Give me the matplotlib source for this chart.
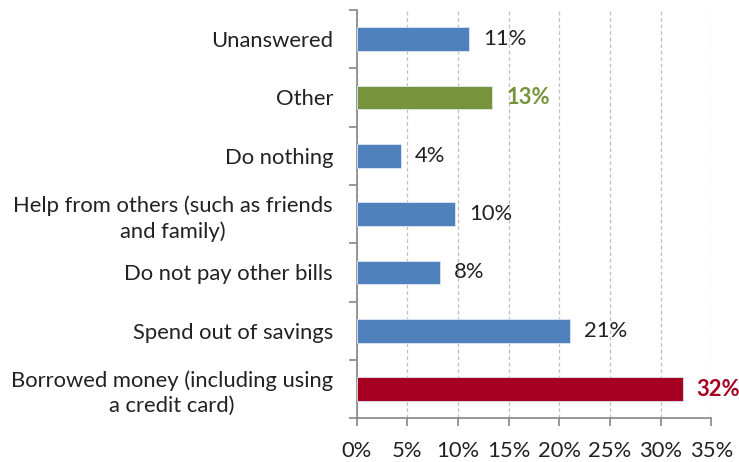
import matplotlib.pyplot as plt
import numpy as np

# Survey answers, listed bottom to top
categories = [
    "Borrowed money (including using\na credit card)",
    "Spend out of savings",
    "Do not pay other bills",
    "Help from others (such as friends\nand family)",
    "Do nothing",
    "Other",
    "Unanswered",
]
shares = [32.2, 21.1, 8.2, 9.7, 4.4, 13.4, 11.1]
bar_colors = ["#A50021", "#4F81BD", "#4F81BD", "#4F81BD", "#4F81BD", "#77933C", "#4F81BD"]
label_colors = ["#A50021", "#222222", "#222222", "#222222", "#222222", "#77933C", "#222222"]
label_bold = [True, False, False, False, False, True, False]
x_ticks = [0, 5, 10, 15, 20, 25, 30, 35]

plt.rcParams["font.family"] = ["Lato", "DejaVu Sans"]
fs = 15.8

fig = plt.figure(figsize=(7.39, 4.62), dpi=100)
ax = fig.add_axes([0.4827, 0.0946, 0.4798, 0.8838])

y = np.arange(len(categories))
ax.barh(y, shares, height=0.41, color=bar_colors, edgecolor="#DCE6F2",
        linewidth=0.6, zorder=3)

for yi, v, c, b in zip(y, shares, label_colors, label_bold):
    ax.annotate(f"{v:.0f}%", xy=(v, yi), xytext=(10, 0), textcoords="offset points",
                va="center", ha="left", fontsize=fs, color=c,
                fontweight="bold" if b else "normal")

ax.set_xlim(0, 35)
ax.set_ylim(-0.5, len(categories) - 0.5)
ax.set_xticks(x_ticks)
ax.set_xticklabels([f"{t}%" for t in x_ticks], fontsize=fs, color="#222222")
ax.set_yticks(y)
ax.set_yticklabels(categories, fontsize=fs, color="#222222")
for lbl in ax.get_yticklabels():
    lbl.set_multialignment("center")
    lbl.set_linespacing(1.3)

# category boundary ticks on the left spine
ax.set_yticks(np.arange(-0.5, len(categories), 1.0), minor=True)
ax.tick_params(axis="y", which="major", length=0, pad=17)
ax.tick_params(axis="y", which="minor", length=6, color="#868686", width=1.2)
ax.tick_params(axis="x", length=6, color="#868686", width=1.2, pad=10)

ax.xaxis.grid(True, linestyle=(0, (3, 2.2)), color="#BFBFBF", linewidth=0.9, zorder=0)
ax.set_axisbelow(True)

for s in ["top", "right"]:
    ax.spines[s].set_visible(False)
for s in ["left", "bottom"]:
    ax.spines[s].set_color("#868686")
    ax.spines[s].set_linewidth(1.2)

fig.savefig("out.png", dpi=100)
